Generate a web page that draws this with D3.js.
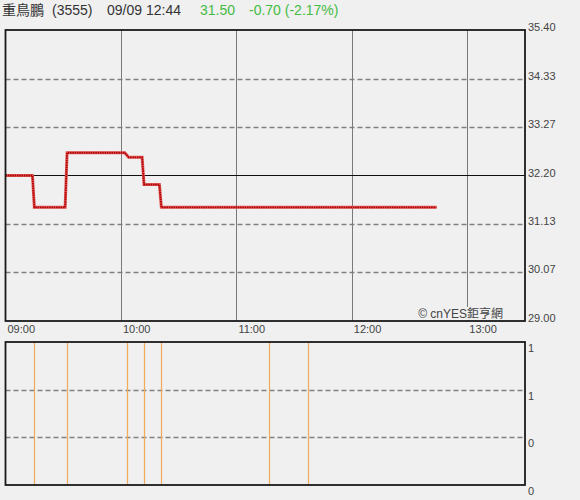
<!DOCTYPE html>
<html><head><meta charset="utf-8">
<script src="https://cdn.jsdelivr.net/npm/d3@7"></script>
<style>
html,body{margin:0;padding:0;background:#f0f0f0;}
svg{display:block;font-family:"Liberation Sans",Arial,sans-serif;}
</style></head>
<body>
<svg id="c" width="580" height="500"></svg>
<script>
// ---- data ----
const stockName = "重鳥鵬";
const stockCode = "(3555)";
const stamp = "09/09 12:44";
const lastPrice = "31.50";
const change = "-0.70 (-2.17%)";
const prevClose = 32.20;

const priceTimes = ["09:00","09:14","09:15","09:31","09:32","10:02","10:04","10:11","10:12","10:20","10:21","12:44"];
const prices     = [32.20, 32.20, 31.50, 31.50, 32.70, 32.70, 32.60, 32.60, 32.00, 32.00, 31.50, 31.50];

const volTimes = ["09:15","09:32","10:03","10:12","10:21","11:17","11:37"];
const volumes  = [1, 1, 1, 1, 1, 1, 1];

const timeTicks = ["09:00","10:00","11:00","12:00","13:00"];
const priceTicks = [29.00, 30.07, 31.13, 32.20, 33.27, 34.33, 35.40];
const volTicks = [0, 1/3, 2/3, 1];
const volTickLabels = ["0","0","1","1"];

// ---- helpers ----
const toMin = s => { const [h,m] = s.split(":").map(Number); return (h-9)*60 + m; };

const svg = d3.select("#c");
const L = 5.5, R = 525;
const pTop = 30, pBot = 321;
const vTop = 342, vBot = 485;

const x = d3.scaleLinear().domain([0, 270]).range([L, R]);
const y = d3.scaleLinear().domain([29.00, 35.40]).range([pBot, pTop]);
const yv = d3.scaleLinear().domain([0, 1]).range([vBot, vTop]);

// ---- header ----
const hdr = svg.append("g").attr("font-size", 14);
hdr.append("text").attr("x", 2).attr("y", 15).attr("fill", "#333")
   .attr("font-family", "'Noto Sans CJK TC','Noto Sans CJK SC',sans-serif").text(stockName);
hdr.append("text").attr("x", 52).attr("y", 15).attr("fill", "#333").text(stockCode);
hdr.append("text").attr("x", 107).attr("y", 15).attr("fill", "#333").text(stamp);
hdr.append("text").attr("x", 200).attr("y", 15).attr("fill", "#44bb44").text(lastPrice);
hdr.append("text").attr("x", 249).attr("y", 15).attr("fill", "#44bb44").text(change);

// ---- main panel grid ----
const g = svg.append("g");
g.selectAll("line.vt").data(timeTicks.slice(1)).join("line")
  .attr("x1", d => Math.round(x(toMin(d))) + 0.5).attr("x2", d => Math.round(x(toMin(d))) + 0.5)
  .attr("y1", pTop).attr("y2", pBot)
  .attr("stroke", "#7a7a7a").attr("stroke-width", 1);

g.selectAll("line.hp").data(priceTicks.filter(v => v !== 29.00 && v !== 35.40 && v !== prevClose)).join("line")
  .attr("x1", L).attr("x2", R)
  .attr("y1", d => Math.round(y(d)) + 0.5).attr("y2", d => Math.round(y(d)) + 0.5)
  .attr("stroke", "#808080").attr("stroke-width", 1.3).attr("stroke-dasharray", "5,3");

g.append("line").attr("x1", L).attr("x2", R)
  .attr("y1", Math.round(y(prevClose)) + 0.5).attr("y2", Math.round(y(prevClose)) + 0.5)
  .attr("stroke", "#111").attr("stroke-width", 1.2);

// price line
const line = d3.line().x((d,i) => x(toMin(priceTimes[i]))).y(d => y(d));
g.append("path").attr("d", line(prices)).attr("fill", "none")
  .attr("stroke", "#e05a5a").attr("stroke-width", 3).attr("stroke-linejoin", "miter");
g.append("path").attr("d", line(prices)).attr("fill", "none")
  .attr("stroke", "#b00000").attr("stroke-width", 1.8).attr("stroke-dasharray", "1.5,0.8");

// watermark
const wm = g.append("text").attr("x", 503).attr("y", 318).attr("text-anchor", "end")
  .attr("font-size", 12).attr("fill", "#444")
  .attr("font-family", "'Liberation Sans','Noto Sans CJK TC',sans-serif")
  .text("© cnYES鉅亨網");
const bb = wm.node().getBBox();
g.insert("rect", "text").attr("x", bb.x).attr("y", bb.y + 1).attr("width", bb.width).attr("height", pBot - bb.y - 2)
  .attr("fill", "#f0f0f0");

g.append("rect").attr("x", L).attr("y", pTop).attr("width", R - L).attr("height", pBot - pTop)
  .attr("fill", "none").attr("stroke", "#1a1a1a").attr("stroke-width", 1.8);

svg.append("g").selectAll("text").data(priceTicks).join("text")
  .attr("x", 528).attr("y", d => y(d) + 1)
  .attr("font-size", 11).attr("fill", "#444")
  .text(d => d.toFixed(2));

svg.append("g").selectAll("text").data(timeTicks).join("text")
  .attr("x", d => x(toMin(d)) + 2).attr("y", 333)
  .attr("font-size", 11).attr("fill", "#444")
  .text(d => d);

// ---- volume panel ----
const gv = svg.append("g");
gv.selectAll("line.hv").data(volTicks.slice(1, 3)).join("line")
  .attr("x1", L).attr("x2", R)
  .attr("y1", d => Math.round(yv(d)) + 0.5).attr("y2", d => Math.round(yv(d)) + 0.5)
  .attr("stroke", "#808080").attr("stroke-width", 1.3).attr("stroke-dasharray", "5,3");

gv.selectAll("line.vb").data(volumes).join("line")
  .attr("x1", (d,i) => Math.round(x(toMin(volTimes[i]))) + 0.5)
  .attr("x2", (d,i) => Math.round(x(toMin(volTimes[i]))) + 0.5)
  .attr("y1", yv(0)).attr("y2", d => yv(d))
  .attr("stroke", "#f2a95c").attr("stroke-width", 1.2);

gv.append("rect").attr("x", L).attr("y", vTop).attr("width", R - L).attr("height", vBot - vTop)
  .attr("fill", "none").attr("stroke", "#1a1a1a").attr("stroke-width", 1.8);

svg.append("g").selectAll("text").data(volTicks).join("text")
  .attr("x", 528).attr("y", d => yv(d) + 10)
  .attr("font-size", 11).attr("fill", "#444")
  .text((d,i) => volTickLabels[i]);
</script>
</body></html>
